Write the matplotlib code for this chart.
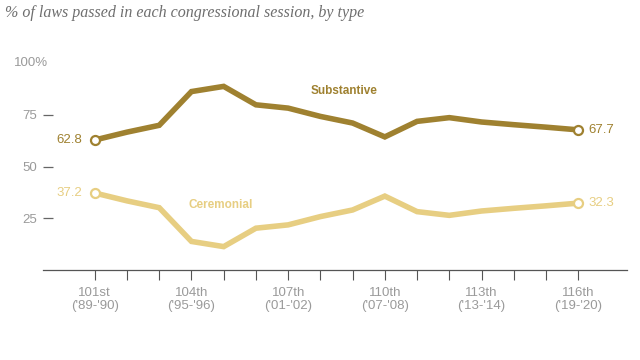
import matplotlib.pyplot as plt
import matplotlib.transforms as mtransforms

# Datos
sesiones = ["101st", "102nd", "103rd", "104th", "105th", "106th", "107th", "108th",
            "109th", "110th", "111th", "112th", "113th", "114th", "115th", "116th"]
anios = ["'89-'90", "'91-'92", "'93-'94", "'95-'96", "'97-'98", "'99-'00", "'01-'02", "'03-'04",
         "'05-'06", "'07-'08", "'09-'10", "'11-'12", "'13-'14", "'15-'16", "'17-'18", "'19-'20"]
sustantivas = [62.8, 66.6, 69.9, 86.2, 88.7, 79.8, 78.2, 74.2,
               71.0, 64.3, 71.8, 73.6, 71.5, 70.2, 69.0, 67.7]
ceremoniales = [37.2, 33.4, 30.1, 13.8, 11.3, 20.2, 21.8, 25.8,
                29.0, 35.7, 28.2, 26.4, 28.5, 29.8, 31.0, 32.3]

c_sust = "#9F8130"
c_cer = "#E7CE82"
gris = "#9a9a9a"

plt.rcParams['font.family'] = ['Liberation Sans', 'DejaVu Sans']

fig = plt.figure(figsize=(6.4, 3.6), dpi=100)
ax = fig.add_axes([0.067, 0.25, 0.913, 0.575])

x = list(range(len(sesiones)))
ax.plot(x, sustantivas, color=c_sust, linewidth=4, solid_joinstyle='miter', zorder=3)
ax.plot(x, ceremoniales, color=c_cer, linewidth=4, solid_joinstyle='miter', zorder=3)

# Círculos en los extremos y etiquetas de valor
for serie, col in [(sustantivas, c_sust), (ceremoniales, c_cer)]:
    ax.plot([x[0], x[-1]], [serie[0], serie[-1]], 'o', markersize=6.5,
            markerfacecolor='white', markeredgecolor=col, markeredgewidth=1.6, zorder=4)
    ax.text(x[0] - 0.4, serie[0], f"{serie[0]:.1f}", color=col, fontsize=9.5,
            ha='right', va='center')
    ax.text(x[-1] + 0.33, serie[-1], f"{serie[-1]:.1f}", color=col, fontsize=9.5,
            ha='left', va='center')

ax.text(7.75, 86.7, "Substantive", color=c_sust, fontsize=8.5, fontweight='bold',
        ha='center', va='center')
ax.text(3.9, 31.6, "Ceremonial", color=c_cer, fontsize=8.5, fontweight='bold',
        ha='center', va='center')

ax.set_xlim(-1.61, 16.52)
ax.set_ylim(0, 100)

# Eje x
ax.set_xticks(x)
ax.set_xticklabels([f"{s}\n({a})" if i % 3 == 0 else "" for i, (s, a) in enumerate(zip(sesiones, anios))],
                   fontsize=9.5, color=gris, linespacing=1.2)
ax.tick_params(axis='x', direction='out', length=7, width=0.8, color='#555555', pad=5)

# Eje y
ax.set_yticks([25, 50, 75])
ax.set_yticklabels(["25", "50", "75"], fontsize=9.5, color=gris)
ax.tick_params(axis='y', direction='in', length=7, width=0.9, color='#666666', pad=4)
trans = mtransforms.blended_transform_factory(ax.transAxes, ax.transData)
ax.text(0.009, 100, "100%", transform=trans, ha='right', va='center', fontsize=9.5, color=gris)

for lado in ['top', 'right', 'left']:
    ax.spines[lado].set_visible(False)
ax.spines['bottom'].set_color('#555555')
ax.spines['bottom'].set_linewidth(0.9)

fig.text(0.008, 0.965, "% of laws passed in each congressional session, by type",
         fontsize=11.5, style='italic', family='Liberation Serif', color='#6e6e6e',
         ha='left', va='center')

fig.savefig("out.png", dpi=100)
